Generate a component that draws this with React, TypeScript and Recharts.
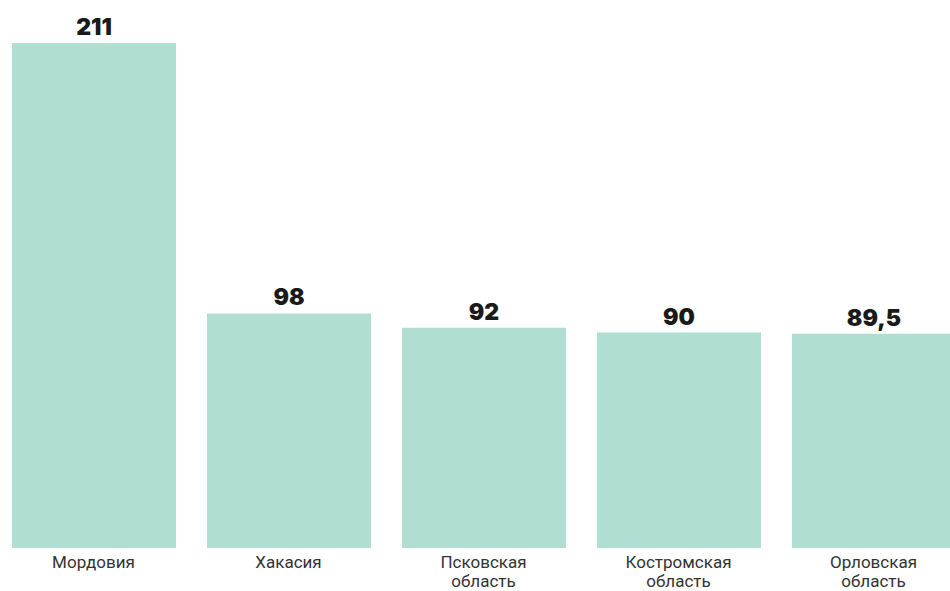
import React from 'react';
import { BarChart, Bar, XAxis, YAxis, LabelList } from 'recharts';

const regions = ['Мордовия', 'Хакасия', 'Псковская область', 'Костромская область', 'Орловская область'];
const values = [211, 98, 92, 90, 89.5];

const data = regions.map((name, i) => ({ name, value: values[i] }));

// splits region names onto two lines, like the original
const RegionTick = (props: any) => {
  const { x, y, payload } = props;
  const lines = String(payload.value).split(' ');
  return (
    <text x={x} y={y} textAnchor="middle" fill="#333" fontSize={17} fontFamily="Roboto, sans-serif">
      {lines.map((line, i) => (
        <tspan key={i} x={x} dy={i === 0 ? 12 : 19}>
          {line}
        </tspan>
      ))}
    </text>
  );
};

const formatValue = (v: any) => String(v).replace('.', ',');

export default function App() {
  return (
    <div style={{ position: 'absolute', left: 0, top: 0, width: 950, height: 591, overflow: 'hidden', background: '#fff' }}>
      <div style={{ position: 'relative', left: -4.5 }}>
        <BarChart
          width={975}
          height={591}
          data={data}
          margin={{ top: 43, right: 0, bottom: 0, left: 0 }}
          barCategoryGap={15.5}
        >
          <XAxis
            dataKey="name"
            axisLine={false}
            tickLine={false}
            interval={0}
            height={43}
            tick={<RegionTick />}
          />
          <YAxis hide domain={[0, 211]} />
          <Bar dataKey="value" fill="#b0ded3" barSize={164} isAnimationActive={false}>
            <LabelList
              dataKey="value"
              position="top"
              offset={8}
              formatter={formatValue}
              style={{ fontFamily: 'Inter, sans-serif', fontWeight: 900, fontSize: 23, fill: '#1a1a1a' }}
            />
          </Bar>
        </BarChart>
      </div>
    </div>
  );
}
